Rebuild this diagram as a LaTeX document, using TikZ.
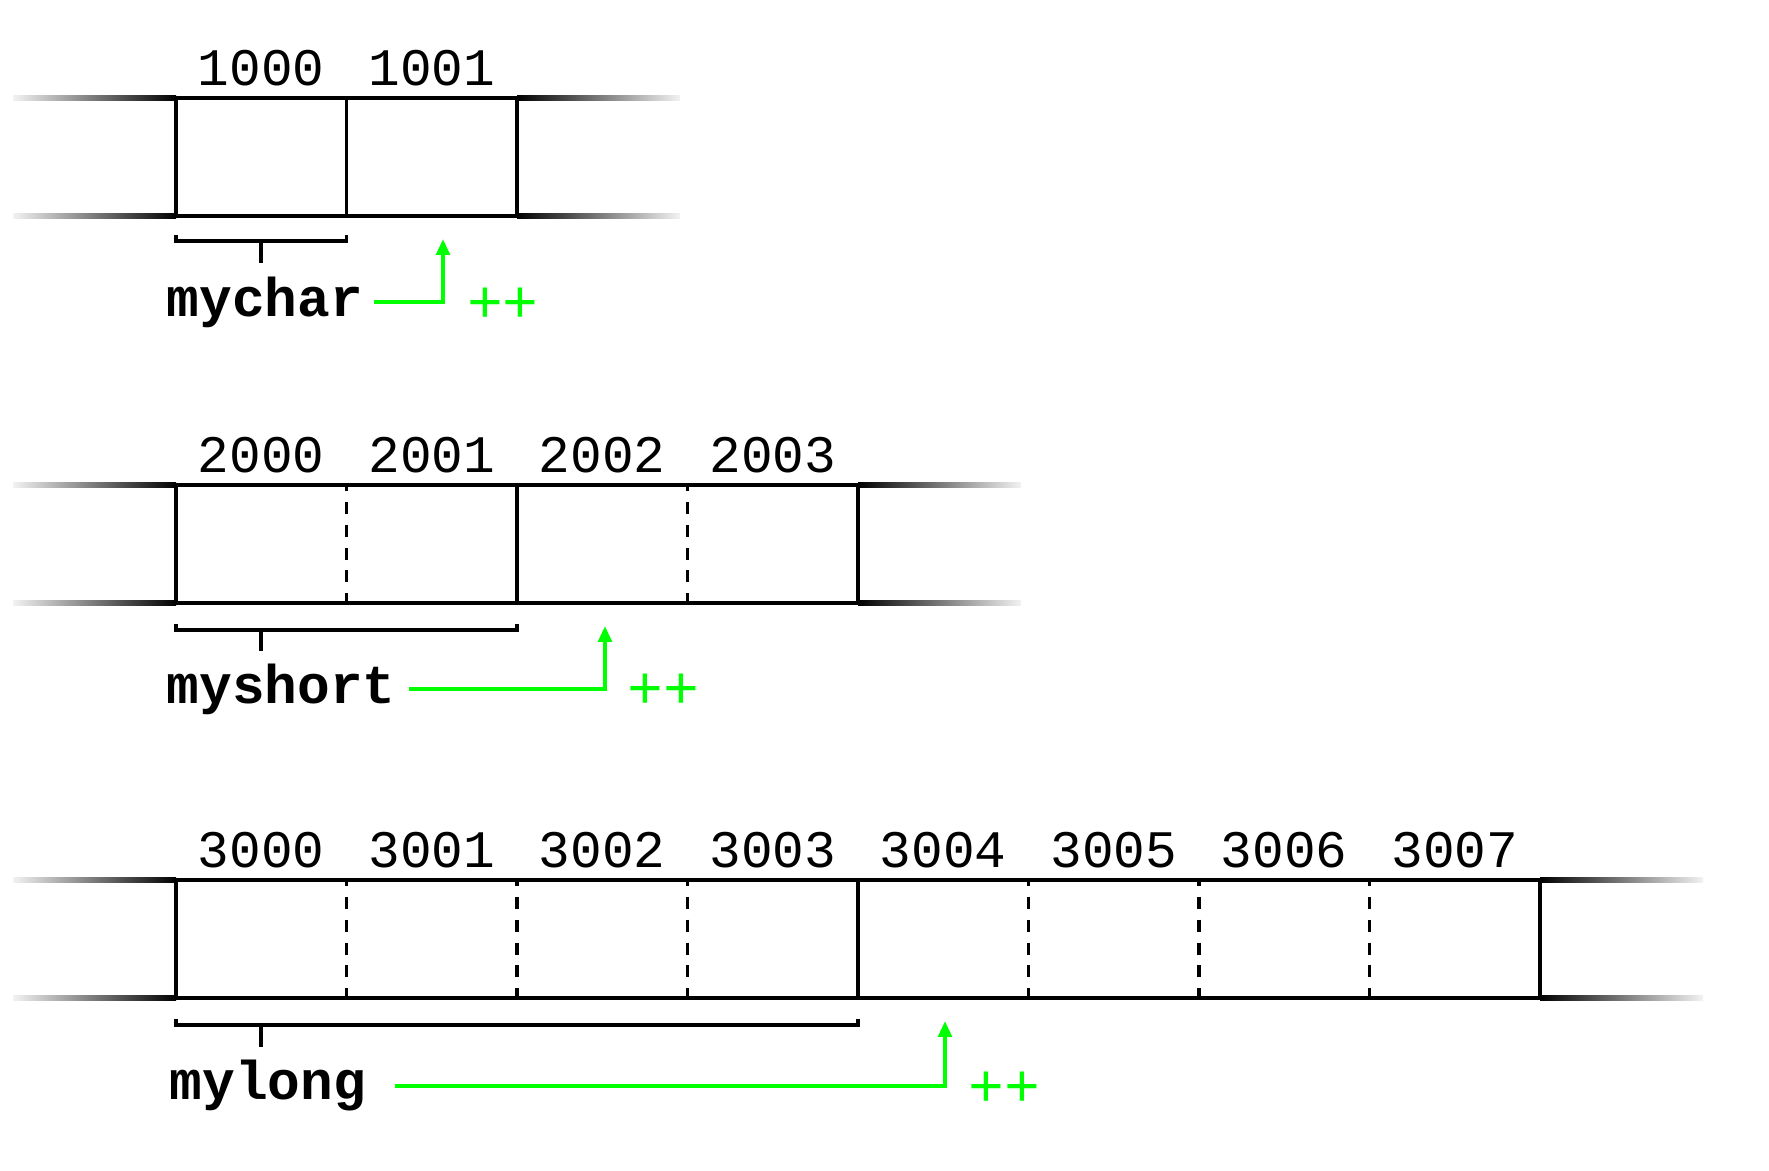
\documentclass[tikz,border=0pt]{standalone}
\usepackage{fontspec}
\setmonofont{Liberation Mono}
\usetikzlibrary{arrows.meta}
\definecolor{incgreen}{RGB}{0,255,0}
\tikzset{
  addr/.style={font=\ttfamily\fontsize{15}{18}\selectfont, inner sep=0pt},
  varname/.style={font=\ttfamily\bfseries\fontsize{15.5}{18}\selectfont, inner sep=0pt, anchor=west},
  plusplus/.style={font=\ttfamily\fontsize{17}{20}\selectfont, text=incgreen, inner sep=0pt},
  wall/.style={line width=1pt},
  halfwall/.style={line width=1pt, dash pattern=on 3.4pt off 3.1pt, dash phase=1.7pt},
  rail/.style={line width=1.3pt},
  brace/.style={line width=1pt},
  incr/.style={incgreen, line width=1.1pt, -{Triangle[length=4.5pt,width=3.8pt]}},
}
\begin{document}
\begin{tikzpicture}[x=0.01cm, y=-0.01cm]
\useasboundingbox (0,0) rectangle (1769,1171);

% char
\shade[left color=black!5, right color=black] (13,95.8) rectangle (176,100.2);
\shade[left color=black!5, right color=black] (13,213.8) rectangle (176,218.2);
\shade[left color=black, right color=black!5] (517,95.8) rectangle (680,100.2);
\shade[left color=black, right color=black!5] (517,213.8) rectangle (680,218.2);
\draw[rail] (176,98) -- (517,98);
\draw[rail] (176,216) -- (517,216);
\draw[wall] (176,98) -- (176,216);
\draw[wall] (346.5,98) -- (346.5,216);
\draw[wall] (517,98) -- (517,216);
\node[addr] (a1000) at (261.25,68) {1000};
\node[addr] (a1001) at (431.75,68) {1001};
\draw[brace] (176,235) -- (176,241) -- (346.5,241) -- (346.5,235);
\draw[brace] (261,241) -- (261,263);
\node[varname] (mychar) at (166,302) {mychar};
\coordinate (tip1) at (443,239);
\draw[incr] ([xshift=2.8pt]mychar.east) -| (tip1);
\node[plusplus] (inc1) at (503,305) {++};

% short
\shade[left color=black!5, right color=black] (13,482.8) rectangle (176,487.2);
\shade[left color=black!5, right color=black] (13,600.8) rectangle (176,605.2);
\shade[left color=black, right color=black!5] (858,482.8) rectangle (1021,487.2);
\shade[left color=black, right color=black!5] (858,600.8) rectangle (1021,605.2);
\draw[rail] (176,485) -- (858,485);
\draw[rail] (176,603) -- (858,603);
\draw[wall] (176,485) -- (176,603);
\draw[halfwall] (346.5,485) -- (346.5,603);
\draw[wall] (517,485) -- (517,603);
\draw[halfwall] (687.5,485) -- (687.5,603);
\draw[wall] (858,485) -- (858,603);
\node[addr] (a2000) at (261.25,455) {2000};
\node[addr] (a2001) at (431.75,455) {2001};
\node[addr] (a2002) at (602.25,455) {2002};
\node[addr] (a2003) at (772.75,455) {2003};
\draw[brace] (176,624) -- (176,630) -- (517,630) -- (517,624);
\draw[brace] (261,630) -- (261,651);
\node[varname] (myshort) at (166,689) {myshort};
\coordinate (tip2) at (605,626);
\draw[incr] ([xshift=3.5pt]myshort.east) -| (tip2);
\node[plusplus] (inc2) at (663,691) {++};

% long
\shade[left color=black!5, right color=black] (13,877.8) rectangle (176,882.2);
\shade[left color=black!5, right color=black] (13,995.8) rectangle (176,1000.2);
\shade[left color=black, right color=black!5] (1540,877.8) rectangle (1703,882.2);
\shade[left color=black, right color=black!5] (1540,995.8) rectangle (1703,1000.2);
\draw[rail] (176,880) -- (1540,880);
\draw[rail] (176,998) -- (1540,998);
\draw[wall] (176,880) -- (176,998);
\draw[halfwall] (346.5,880) -- (346.5,998);
\draw[halfwall] (517,880) -- (517,998);
\draw[halfwall] (687.5,880) -- (687.5,998);
\draw[wall] (858,880) -- (858,998);
\draw[halfwall] (1028.5,880) -- (1028.5,998);
\draw[halfwall] (1199,880) -- (1199,998);
\draw[halfwall] (1369.5,880) -- (1369.5,998);
\draw[wall] (1540,880) -- (1540,998);
\node[addr] (a3000) at (261.25,850) {3000};
\node[addr] (a3001) at (431.75,850) {3001};
\node[addr] (a3002) at (602.25,850) {3002};
\node[addr] (a3003) at (772.75,850) {3003};
\node[addr] (a3004) at (943.25,850) {3004};
\node[addr] (a3005) at (1113.75,850) {3005};
\node[addr] (a3006) at (1284.25,850) {3006};
\node[addr] (a3007) at (1454.75,850) {3007};
\draw[brace] (176,1019) -- (176,1025) -- (858,1025) -- (858,1019);
\draw[brace] (261,1025) -- (261,1047);
\node[varname] (mylong) at (169,1086) {mylong};
\coordinate (tip3) at (945,1021);
\draw[incr] ([xshift=8pt]mylong.east) -| (tip3);
\node[plusplus] (inc3) at (1004,1089) {++};
\end{tikzpicture}
\end{document}
